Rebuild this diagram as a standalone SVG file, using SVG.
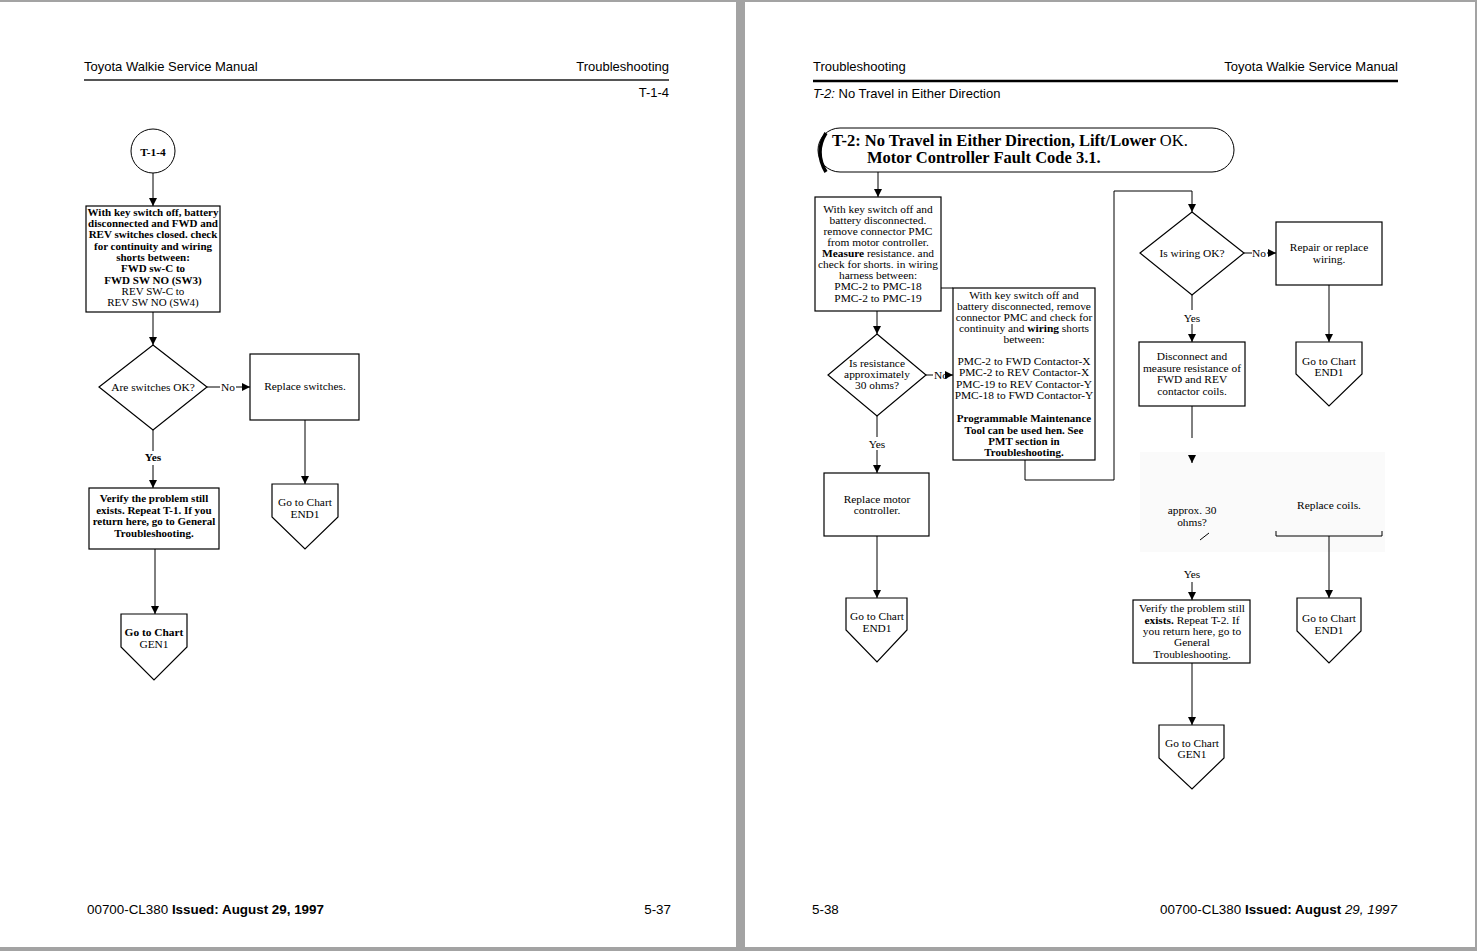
<svg xmlns="http://www.w3.org/2000/svg" width="1477" height="951" viewBox="0 0 1477 951">
<defs>
<marker id="arr" markerUnits="userSpaceOnUse" markerWidth="8" markerHeight="8" viewBox="0 0 8 8" refX="8" refY="4" orient="auto">
<path d="M0,0 L8,4 L0,8 Z" fill="#000"/>
</marker>
</defs>
<style>
.hdr{font-family:"Liberation Sans",Arial,sans-serif;font-size:13px;fill:#000}
.ft{font-family:"Liberation Sans",Arial,sans-serif;font-size:13.4px;fill:#000}
.t{font-family:"Liberation Serif","Times New Roman",serif;font-size:11.4px;fill:#000;text-anchor:middle}
.s{font-size:11px}
.b{font-weight:bold}
.box{fill:#fff;stroke:#000;stroke-width:1.2}
.ln{fill:none;stroke:#000;stroke-width:1}
.lna{fill:none;stroke:#000;stroke-width:1;marker-end:url(#arr)}
</style>
<rect x="0" y="0" width="1477" height="951" fill="#a3a3a3"/>
<rect x="0" y="2" width="736" height="945" fill="#fff"/>
<rect x="745" y="2" width="730" height="945" fill="#fff"/>

<!-- Left page header/footer -->
<text class="hdr" x="84" y="71">Toyota Walkie Service Manual</text>
<text class="hdr" x="669" y="71" text-anchor="end">Troubleshooting</text>
<line x1="84" y1="80" x2="669" y2="80" stroke="#555" stroke-width="2"/>
<text class="hdr" x="669" y="97" text-anchor="end">T-1-4</text>
<text class="ft" x="87" y="914">00700-CL380 <tspan font-weight="bold">Issued:  August 29, 1997</tspan></text>
<text class="ft" x="671" y="914" text-anchor="end">5-37</text>

<!-- Right page header/footer -->
<text class="hdr" x="813" y="71">Troubleshooting</text>
<text class="hdr" x="1398" y="71" text-anchor="end">Toyota Walkie Service Manual</text>
<line x1="813" y1="81" x2="1398" y2="81" stroke="#000" stroke-width="2.5"/>
<text class="hdr" x="813" y="98"><tspan font-style="italic">T-2:</tspan> No Travel in Either Direction</text>
<text class="ft" x="812" y="914">5-38</text>
<text class="ft" x="1397" y="914" text-anchor="end">00700-CL380 <tspan font-weight="bold">Issued:  August <tspan font-style="italic" font-weight="normal">29, 1997</tspan></tspan></text>

<!-- faint background area on right -->
<rect x="1140" y="452" width="245" height="100" fill="#fafafa"/>

<!-- Connectors -->
<g id="connectors">
<line class="lna" x1="153" y1="173" x2="153" y2="206"/>
<line class="lna" x1="153" y1="312" x2="153" y2="345"/>
<line class="ln" x1="207" y1="387" x2="220" y2="387"/>
<line class="lna" x1="236" y1="387" x2="250" y2="387"/>
<line class="lna" x1="305" y1="420" x2="305" y2="484"/>
<line class="ln" x1="153" y1="430" x2="153" y2="451"/>
<line class="lna" x1="153" y1="465" x2="153" y2="488"/>
<line class="lna" x1="155" y1="549" x2="155" y2="614"/>

<line class="lna" x1="878" y1="172" x2="878" y2="197"/>
<line class="ln" x1="941" y1="288" x2="953" y2="288"/>
<line class="lna" x1="877" y1="311" x2="877" y2="334"/>
<line class="ln" x1="926" y1="375" x2="933" y2="375"/>
<line class="lna" x1="947" y1="375" x2="953" y2="375"/>
<line class="ln" x1="877" y1="416" x2="877" y2="437"/>
<line class="lna" x1="877" y1="450" x2="877" y2="473"/>
<line class="lna" x1="877" y1="536" x2="877" y2="598"/>
<polyline class="lna" points="1025,460 1025,480 1114,480 1114,191 1192,191 1192,212"/>
<line class="ln" x1="1244" y1="253" x2="1252" y2="253"/>
<line class="lna" x1="1267" y1="253" x2="1276" y2="253"/>
<line class="lna" x1="1329" y1="285" x2="1329" y2="342"/>
<line class="ln" x1="1192" y1="295" x2="1192" y2="310"/>
<line class="lna" x1="1192" y1="324" x2="1192" y2="342"/>
<line class="ln" x1="1192" y1="406" x2="1192" y2="438"/>
<line class="lna" x1="1192" y1="455" x2="1192" y2="463"/>
<line class="ln" x1="1200" y1="540" x2="1209" y2="533"/>
<polyline class="ln" points="1276,531 1276,536 1382,536 1382,531"/>
<line class="lna" x1="1329" y1="536" x2="1329" y2="598"/>
<line class="lna" x1="1192" y1="582" x2="1192" y2="600"/>
<line class="lna" x1="1192" y1="663" x2="1192" y2="725"/>
</g>
<text class="t" x="228" y="391">No</text>
<text class="t b" x="153" y="461">Yes</text>
<text class="t" x="941" y="379">No</text>
<text class="t" x="877" y="448">Yes</text>
<text class="t" x="1259" y="257">No</text>
<text class="t" x="1192" y="322">Yes</text>
<text class="t" x="1192" y="578">Yes</text>

<!-- Left page nodes -->
<g id="n-t14">
<circle cx="153" cy="151" r="22" fill="#fff" stroke="#000" stroke-width="1"/>
<text class="t b" x="153" y="156" font-size="13.5">T-1-4</text>
</g>
<g id="n-check-switches">
<rect class="box" x="86" y="206" width="134" height="106"/>
<text class="t s b" x="153" y="216">With key switch off, battery</text>
<text class="t s b" x="153" y="227">disconnected and FWD and</text>
<text class="t s b" x="153" y="238">REV switches closed. check</text>
<text class="t s b" x="153" y="250">for continuity and wiring</text>
<text class="t s b" x="153" y="261">shorts between:</text>
<text class="t s b" x="153" y="272">FWD sw-C to</text>
<text class="t s b" x="153" y="284">FWD SW NO (SW3)</text>
<text class="t s" x="153" y="295">REV SW-C to</text>
<text class="t s" x="153" y="306">REV SW NO (SW4)</text>
</g>
<g id="n-switches-ok">
<polygon class="box" points="153,345 207,387 153,430 99,387"/>
<text class="t" x="153" y="391">Are switches OK?</text>
</g>
<g id="n-replace-switches">
<rect class="box" x="250" y="354" width="109" height="66"/>
<text class="t" x="305" y="390">Replace switches.</text>
</g>
<g id="n-end1-a">
<polygon class="box" points="272,484 338,484 338,517 305,549 272,517"/>
<text class="t" x="305" y="506">Go to Chart</text>
<text class="t" x="305" y="518">END1</text>
</g>
<g id="n-verify-1">
<rect class="box" x="89" y="488" width="130" height="61"/>
<text class="t s b" x="154" y="502">Verify the problem still</text>
<text class="t s b" x="154" y="514">exists. Repeat T-1. If you</text>
<text class="t s b" x="154" y="525">return here, go to General</text>
<text class="t s b" x="154" y="537">Troubleshooting.</text>
</g>
<g id="n-gen1-a">
<polygon class="box" points="121,614 187,614 187,647 154,680 121,647"/>
<text class="t b" x="154" y="636">Go to Chart</text>
<text class="t" x="154" y="648">GEN1</text>
</g>

<!-- Right page nodes -->
<g id="n-title">
<rect x="818" y="128" width="416" height="44" rx="22" ry="22" fill="#fff" stroke="#000" stroke-width="1"/>
<path d="M826,133 Q814,152 826,172" fill="none" stroke="#000" stroke-width="3.5"/>
<text x="832" y="146" font-family="Liberation Serif,Times New Roman,serif" font-size="16.5" font-weight="bold">T-2:  No Travel in Either Direction, Lift/Lower <tspan font-weight="normal">OK.</tspan></text>
<text x="867" y="163" font-family="Liberation Serif,Times New Roman,serif" font-size="16.5" font-weight="bold">Motor Controller Fault Code 3.1.</text>
</g>
<g id="n-measure-pmc">
<rect class="box" x="815" y="197" width="126" height="114"/>
<text class="t" x="878" y="213">With key switch off and</text>
<text class="t" x="878" y="224">battery disconnected.</text>
<text class="t" x="878" y="235">remove connector PMC</text>
<text class="t" x="878" y="246">from motor controller.</text>
<text class="t" x="878" y="257"><tspan font-weight="bold">Measure</tspan> resistance. and</text>
<text class="t" x="878" y="268">check for shorts. in wiring</text>
<text class="t" x="878" y="279">harness between:</text>
<text class="t" x="878" y="290">PMC-2 to PMC-18</text>
<text class="t" x="878" y="302">PMC-2 to PMC-19</text>
</g>
<g id="n-resistance-30">
<polygon class="box" points="877,334 926,375 877,416 828,375"/>
<text class="t" x="877" y="367">Is resistance</text>
<text class="t" x="877" y="378">approximately</text>
<text class="t" x="877" y="389">30 ohms?</text>
</g>
<g id="n-check-contactors">
<rect class="box" x="953" y="288" width="142" height="172"/>
<text class="t" x="1024" y="299">With key switch off and</text>
<text class="t" x="1024" y="310">battery disconnected, remove</text>
<text class="t" x="1024" y="321">connector PMC and check for</text>
<text class="t" x="1024" y="332">continuity and <tspan font-weight="bold">wiring</tspan> shorts</text>
<text class="t" x="1024" y="343">between:</text>
<text class="t" x="1024" y="365">PMC-2 to FWD Contactor-X</text>
<text class="t" x="1024" y="376">PMC-2 to REV Contactor-X</text>
<text class="t" x="1024" y="388">PMC-19 to REV Contactor-Y</text>
<text class="t" x="1024" y="399">PMC-18 to FWD Contactor-Y</text>
<text class="t s b" x="1024" y="422">Programmable Maintenance</text>
<text class="t s b" x="1024" y="434">Tool can be used hen. See</text>
<text class="t s b" x="1024" y="445">PMT section in</text>
<text class="t s b" x="1024" y="456">Troubleshooting.</text>
</g>
<g id="n-replace-controller">
<rect class="box" x="824" y="473" width="105" height="63"/>
<text class="t" x="877" y="503">Replace motor</text>
<text class="t" x="877" y="514">controller.</text>
</g>
<g id="n-end1-b">
<polygon class="box" points="846,598 907,598 907,630 877,662 846,630"/>
<text class="t" x="877" y="620">Go to Chart</text>
<text class="t" x="877" y="632">END1</text>
</g>
<g id="n-wiring-ok">
<polygon class="box" points="1192,212 1244,253 1192,295 1140,253"/>
<text class="t" x="1192" y="257">Is wiring OK?</text>
</g>
<g id="n-repair-wiring">
<rect class="box" x="1276" y="222" width="106" height="63"/>
<text class="t" x="1329" y="251">Repair or replace</text>
<text class="t" x="1329" y="263">wiring.</text>
</g>
<g id="n-end1-c">
<polygon class="box" points="1296,342 1362,342 1362,374 1329,406 1296,374"/>
<text class="t" x="1329" y="365">Go to Chart</text>
<text class="t" x="1329" y="376">END1</text>
</g>
<g id="n-measure-coils">
<rect class="box" x="1139" y="342" width="106" height="64"/>
<text class="t" x="1192" y="360">Disconnect and</text>
<text class="t" x="1192" y="372">measure resistance of</text>
<text class="t" x="1192" y="383">FWD and REV</text>
<text class="t" x="1192" y="395">contactor coils.</text>
</g>
<g id="n-approx-30">
<text class="t" x="1192" y="514">approx. 30</text>
<text class="t" x="1192" y="526">ohms?</text>
</g>
<g id="n-replace-coils">
<text class="t" x="1329" y="509">Replace coils.</text>
</g>
<g id="n-end1-d">
<polygon class="box" points="1297,598 1361,598 1361,631 1329,663 1297,631"/>
<text class="t" x="1329" y="622">Go to Chart</text>
<text class="t" x="1329" y="634">END1</text>
</g>
<g id="n-verify-2">
<rect class="box" x="1133" y="600" width="117" height="63"/>
<text class="t" x="1192" y="612">Verify the problem still</text>
<text class="t" x="1192" y="624"><tspan font-weight="bold">exists.</tspan> Repeat T-2. If</text>
<text class="t" x="1192" y="635">you return here, go to</text>
<text class="t" x="1192" y="646">General</text>
<text class="t" x="1192" y="658">Troubleshooting.</text>
</g>
<g id="n-gen1-b">
<polygon class="box" points="1159,725 1224,725 1224,758 1192,789 1159,758"/>
<text class="t" x="1192" y="747">Go to Chart</text>
<text class="t" x="1192" y="758">GEN1</text>
</g>
</svg>
